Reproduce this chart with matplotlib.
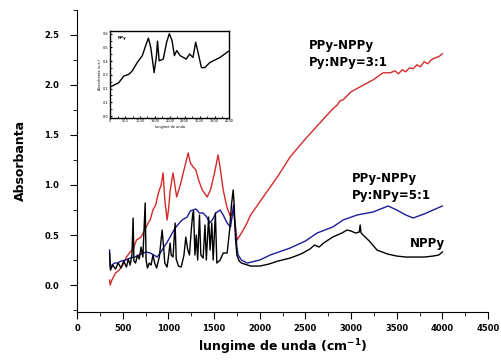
import matplotlib

matplotlib.use("Agg")
import matplotlib.pyplot as plt
from matplotlib.ticker import MultipleLocator, FormatStrFormatter

plt.rcParams.update({"font.family": "DejaVu Sans", "axes.unicode_minus": False})

# PPy-NPPy, Py:NPy = 3:1
RED_X = [355, 362, 380, 420, 460, 500, 540, 580, 613, 650, 700, 740, 778, 800, 830,
         860, 890, 920, 942, 960, 986, 1000, 1020, 1050, 1090, 1130, 1170, 1216, 1240,
         1270, 1300, 1330, 1370, 1424, 1460, 1500, 1544, 1570, 1600, 1640, 1680, 1709,
         1730, 1752, 1800, 1850, 1900, 2000, 2100, 2200, 2333, 2500, 2600, 2700, 2800,
         2850, 2880, 2913, 3000, 3100, 3242, 3351, 3430, 3480, 3520, 3560, 3600, 3640,
         3680, 3720, 3760, 3800, 3840, 3880, 3920, 3960, 4000]
RED_Y = [0.05, 0.00, 0.05, 0.12, 0.15, 0.20, 0.28, 0.33, 0.36, 0.45, 0.48, 0.55, 0.62,
         0.65, 0.75, 0.80, 0.92, 1.00, 1.12, 0.85, 0.65, 0.75, 0.95, 1.12, 0.88, 1.00,
         1.15, 1.32, 1.22, 1.18, 1.15, 1.05, 0.95, 0.88, 0.95, 1.10, 1.30, 1.15, 0.95,
         0.78, 0.68, 0.75, 0.62, 0.45, 0.52, 0.60, 0.70, 0.83, 0.96, 1.09, 1.28, 1.46,
         1.56, 1.66, 1.76, 1.80, 1.84, 1.85, 1.93, 1.98, 2.05, 2.12, 2.12, 2.14, 2.11,
         2.15, 2.13, 2.17, 2.16, 2.20, 2.18, 2.23, 2.21, 2.25, 2.27, 2.28, 2.31]

# PPy-NPPy, Py:NPy = 5:1
BLUE_X = [355, 362, 380, 410, 438, 480, 530, 580, 630, 680, 723, 760, 800, 840, 876,
          910, 950, 980, 1018, 1060, 1100, 1150, 1205, 1240, 1270, 1300, 1340, 1380,
          1420, 1450, 1480, 1520, 1566, 1600, 1643, 1680, 1700, 1712, 1725, 1750, 1763,
          1800, 1862, 2000, 2114, 2333, 2500, 2628, 2800, 2913, 3066, 3242, 3406, 3500,
          3600, 3680, 3800, 3900, 4000]
BLUE_Y = [0.35, 0.18, 0.20, 0.22, 0.22, 0.24, 0.25, 0.27, 0.28, 0.30, 0.32, 0.33, 0.32,
          0.30, 0.28, 0.32, 0.38, 0.42, 0.48, 0.55, 0.60, 0.65, 0.68, 0.74, 0.75, 0.76,
          0.72, 0.72, 0.68, 0.62, 0.65, 0.72, 0.75, 0.70, 0.62, 0.58, 0.70, 0.80, 0.65,
          0.38, 0.30, 0.25, 0.22, 0.25, 0.30, 0.37, 0.44, 0.52, 0.58, 0.65, 0.70, 0.73,
          0.79, 0.75, 0.70, 0.67, 0.71, 0.75, 0.79]

# NPPy
BLACK_X = [355, 365, 390, 420, 450, 480, 510, 540, 560, 580, 600, 613, 622, 640, 660,
           680, 700, 720, 745, 755, 770, 790, 810, 830, 850, 870, 900, 931, 945, 960,
           985, 1000, 1018, 1030, 1050, 1073, 1085, 1110, 1140, 1170, 1190, 1210, 1230,
           1250, 1265, 1275, 1290, 1305, 1320, 1340, 1355, 1380, 1400, 1415, 1440, 1456,
           1475, 1490, 1514, 1530, 1566, 1600, 1643, 1670, 1690, 1709, 1720, 1735, 1750,
           1775, 1800, 1900, 2000, 2100, 2200, 2333, 2450, 2550, 2600, 2650, 2700, 2800,
           2900, 2957, 3000, 3050, 3090, 3100, 3110, 3200, 3285, 3400, 3500, 3600, 3700,
           3800, 3900, 3960, 4000]
BLACK_Y = [0.32, 0.15, 0.20, 0.16, 0.22, 0.17, 0.24, 0.18, 0.26, 0.20, 0.30, 0.67, 0.24,
           0.22, 0.30, 0.26, 0.38, 0.28, 0.82, 0.25, 0.17, 0.22, 0.20, 0.30, 0.22, 0.17,
           0.28, 0.55, 0.40, 0.22, 0.18, 0.28, 0.42, 0.30, 0.28, 0.62, 0.26, 0.19, 0.18,
           0.30, 0.48, 0.36, 0.30, 0.55, 0.70, 0.74, 0.30, 0.50, 0.25, 0.70, 0.30, 0.27,
           0.60, 0.25, 0.68, 0.35, 0.62, 0.25, 0.72, 0.22, 0.25, 0.32, 0.32, 0.55, 0.80,
           0.95, 0.80, 0.45, 0.30, 0.24, 0.22, 0.19, 0.19, 0.21, 0.24, 0.27, 0.31, 0.36,
           0.40, 0.38, 0.42, 0.48, 0.52, 0.55, 0.54, 0.52, 0.53, 0.60, 0.52, 0.44, 0.35,
           0.31, 0.29, 0.28, 0.28, 0.28, 0.29, 0.30, 0.33]

# PPy (inset)
INSET_X = [0, 283, 453, 623, 737, 907, 1076, 1190, 1280, 1360, 1473, 1552, 1586, 1643,
           1779, 1892, 1983, 2074, 2153, 2232, 2346, 2550, 2663, 2776, 2867, 2946, 3059,
           3173, 3343, 3683, 4000]
INSET_Y = [0.212, 0.242, 0.291, 0.304, 0.328, 0.390, 0.440, 0.514, 0.568, 0.500, 0.316,
           0.440, 0.546, 0.402, 0.415, 0.538, 0.600, 0.550, 0.440, 0.477, 0.440, 0.415,
           0.452, 0.427, 0.538, 0.464, 0.353, 0.353, 0.390, 0.427, 0.477]

LABELS = [
    (2540, 2.46, "PPy-NPPy\nPy:NPy=3:1"),
    (3010, 1.13, "PPy-NPPy\nPy:NPy=5:1"),
    (3640, 0.48, "NPPy"),
]

fig = plt.figure(figsize=(5.01, 3.6), dpi=100)
ax = fig.add_axes([0.154, 0.133, 0.82, 0.84])

ax.plot(RED_X, RED_Y, color="#d42a2a", lw=1.0)
ax.plot(BLUE_X, BLUE_Y, color="#1c1c96", lw=1.0)
ax.plot(BLACK_X, BLACK_Y, color="black", lw=1.0)

ax.set_xlim(0, 4500)
ax.set_ylim(-0.27, 2.75)
ax.xaxis.set_major_locator(MultipleLocator(500))
ax.xaxis.set_minor_locator(MultipleLocator(250))
ax.yaxis.set_major_locator(MultipleLocator(0.5))
ax.yaxis.set_minor_locator(MultipleLocator(0.25))
ax.yaxis.set_major_formatter(FormatStrFormatter("%.1f"))
ax.spines["top"].set_visible(False)
ax.spines["right"].set_visible(False)
ax.tick_params(which="both", direction="out")
ax.tick_params(which="major", length=5, labelsize=6)
ax.tick_params(axis="y", which="major", pad=8)
ax.tick_params(which="minor", length=3)
for lbl in ax.get_xticklabels() + ax.get_yticklabels():
    lbl.set_fontweight("bold")

ax.set_ylabel("Absorbanta", fontsize=9, fontweight="bold", labelpad=12)
ax.set_xlabel("lungime de unda (cm$^{\\mathbf{-1}}$)", fontsize=9, fontweight="bold", labelpad=3)

for x, y, txt in LABELS:
    ax.text(x, y, txt, fontsize=8.5, fontweight="heavy", va="top", linespacing=1.45)

# small inset with the PPy spectrum
ins = fig.add_axes([0.22, 0.672, 0.238, 0.242])
ins.plot(INSET_X, INSET_Y, color="black", lw=1.0)
ins.set_xlim(0, 4000)
ins.set_ylim(-0.015, 0.62)
ins.xaxis.set_major_locator(MultipleLocator(500))
ins.xaxis.set_minor_locator(MultipleLocator(250))
ins.yaxis.set_major_locator(MultipleLocator(0.1))
ins.yaxis.set_minor_locator(MultipleLocator(0.05))
ins.tick_params(which="both", direction="in", labelsize=2.5, length=1.5, pad=1)
for s in ins.spines.values():
    s.set_linewidth(1.0)
ins.set_ylabel("Absorbanta (u.a.)", fontsize=2.5, labelpad=1)
ins.set_xlabel("lungime de unda", fontsize=2.5, labelpad=1)
ins.text(250, 0.56, "PPy", fontsize=3, fontweight="bold")

fig.savefig("out.png", dpi=100)
